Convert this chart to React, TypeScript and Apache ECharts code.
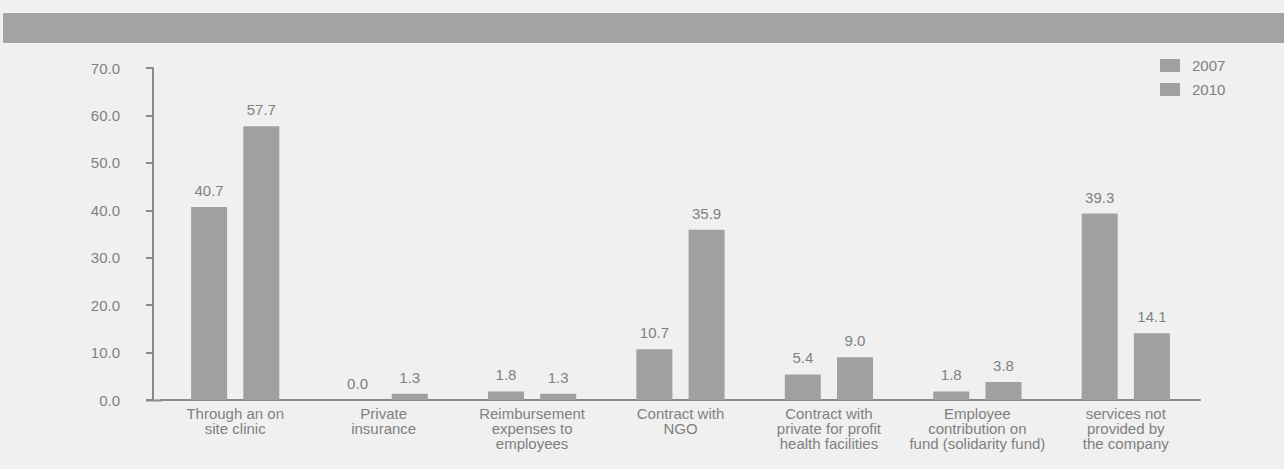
import React, { useEffect, useRef } from "react";
import * as echarts from "echarts";

const categories = [
  "Through an on\nsite clinic",
  "Private\ninsurance",
  "Reimbursement\nexpenses to\nemployees",
  "Contract with\nNGO",
  "Contract with\nprivate for profit\nhealth facilities",
  "Employee\ncontribution on\nfund (solidarity fund)",
  "services not\nprovided by\nthe company",
];
const seriesNames = ["2007", "2010"];
const values2007 = [40.7, 0.0, 1.8, 10.7, 5.4, 1.8, 39.3];
const values2010 = [57.7, 1.3, 1.3, 35.9, 9.0, 3.8, 14.1];
const yTicks = { min: 0, max: 70, interval: 10 };

const FONT = "'Liberation Sans', Arial, sans-serif";
const TEXT = "#808080";
const AXIS = "#8a8a8a";
const BAR = "#a0a0a0";

export default function App() {
  const ref = useRef<HTMLDivElement>(null);
  useEffect(() => {
    if (!ref.current) return;
    const chart = echarts.init(ref.current, null, { renderer: "svg" });
    const labelCfg = {
      show: true,
      position: "top",
      distance: 9,
      color: TEXT,
      fontSize: 15,
      fontFamily: FONT,
      formatter: (p: any) => Number(p.value).toFixed(1),
    };
    chart.setOption({
      animation: false,
      backgroundColor: "#f0f0f0",
      textStyle: { fontFamily: FONT },
      graphic: [
        {
          type: "rect",
          shape: { x: 3, y: 13, width: 1281, height: 30 },
          style: { fill: "#a3a3a3" },
        },
        {
          type: "line",
          shape: { x1: 146, y1: 400.5, x2: 162, y2: 400.5 },
          style: { stroke: AXIS, lineWidth: 2 },
        },
      ],
      legend: {
        orient: "vertical",
        left: 1155,
        top: 53,
        itemWidth: 20,
        itemHeight: 13,
        itemGap: 9,
        icon: "rect",
        textStyle: { color: TEXT, fontSize: 15, fontFamily: FONT, padding: [0, 0, 0, 7] },
        data: seriesNames,
      },
      grid: { left: 161, right: 84, top: 68, bottom: 69, containLabel: false },
      xAxis: {
        type: "category",
        data: categories,
        axisLine: { show: true, lineStyle: { color: AXIS, width: 2 } },
        axisTick: { show: false },
        axisLabel: {
          interval: 0,
          color: TEXT,
          fontSize: 15,
          lineHeight: 15,
          margin: 6,
          fontFamily: FONT,
        },
      },
      yAxis: {
        type: "value",
        min: yTicks.min,
        max: yTicks.max,
        interval: yTicks.interval,
        offset: 8,
        axisLine: { show: true, lineStyle: { color: AXIS, width: 2 } },
        axisTick: { show: true, length: 7, lineStyle: { color: AXIS, width: 2 } },
        splitLine: { show: false },
        axisLabel: {
          color: TEXT,
          fontSize: 15,
          margin: 33,
          fontFamily: FONT,
          formatter: (v: number) => v.toFixed(1),
        },
      },
      series: [
        {
          name: seriesNames[0],
          type: "bar",
          data: values2007,
          barWidth: 36,
          barGap: "45%",
          itemStyle: { color: BAR },
          label: labelCfg,
        },
        {
          name: seriesNames[1],
          type: "bar",
          data: values2010,
          barWidth: 36,
          barGap: "45%",
          itemStyle: { color: BAR },
          label: labelCfg,
        },
      ],
    });
    return () => chart.dispose();
  }, []);
  return (
    <div
      ref={ref}
      style={{ position: "absolute", left: 0, top: 0, width: 1284, height: 469 }}
    />
  );
}
